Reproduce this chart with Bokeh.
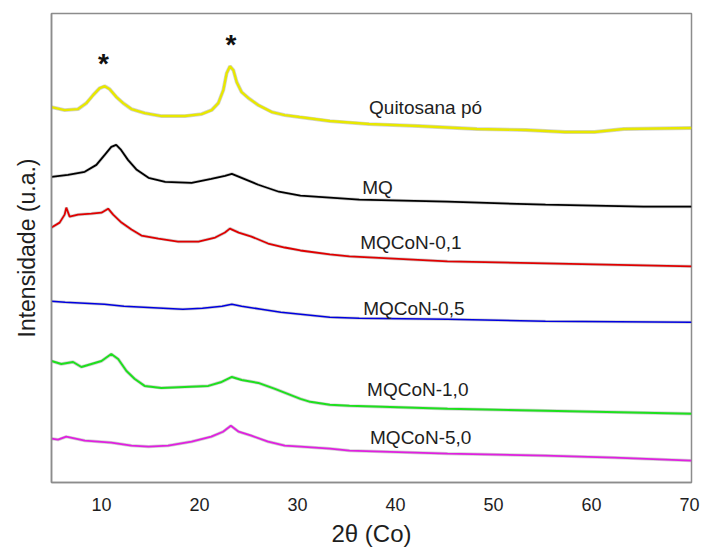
from bokeh.plotting import figure
from bokeh.models import Range1d, FixedTicker, Label
from bokeh.embed import file_html
from bokeh.resources import INLINE

# 2-theta (degrees) / intensity (a.u., stacked) for each sample
theta_quit = [4.9, 6.24, 7.61, 8.46, 9.14, 9.82, 10.33, 10.84, 11.53, 12.21, 13.06, 14.42, 16.13, 18.51,
              20.22, 21.24, 21.92, 22.43, 22.77, 23.11, 23.46, 23.8, 24.3, 25.0, 26.0, 27.4, 28.7, 30.2,
              33.3, 37.3, 42.3, 48.3, 53.3, 57.3, 60.3, 63.3, 70.2]
int_quit = [377, 374, 375, 381, 389, 396, 398, 395, 387, 381, 375, 371, 368, 368,
            370, 374, 381, 394, 411, 418, 414, 402, 392, 386, 379, 372, 369, 367,
            363, 360, 358, 355, 354, 352, 352, 355, 356]

theta_mq = [4.9, 6.58, 8.29, 9.48, 10.33, 11.0, 11.5, 12.0, 12.7, 13.6, 14.8, 16.5, 19.2, 21.2, 22.6,
            23.3, 24.3, 26.0, 28.1, 30.3, 33.3, 36.3, 45.3, 55.3, 65.3, 70.2]
int_mq = [307, 309, 312, 319, 329, 337, 339, 334, 324, 314, 306, 302, 301, 305, 308,
          310, 306, 299, 292, 288, 286, 284, 282, 279, 277, 277]

theta_01 = [4.9, 5.73, 6.24, 6.41, 6.75, 7.61, 8.97, 10.0, 10.68, 11.19, 12.04, 13.06, 14.08, 15.8, 17.8,
            19.9, 21.6, 22.6, 23.1, 24.0, 25.3, 27.0, 28.7, 30.3, 33.3, 35.3, 45.3, 55.3, 70.2]
int_01 = [256, 261, 269, 276, 267, 269, 270, 271, 275, 269, 261, 254, 248, 245, 242,
          242, 246, 251, 255, 251, 247, 240, 236, 233, 229, 227, 222, 220, 217]

theta_05 = [4.9, 6.3, 8.3, 10.3, 12.3, 14.3, 16.3, 18.3, 20.3, 22.3, 23.3, 24.3, 26.3, 28.3, 30.3, 33.3,
            36.3, 45.3, 55.3, 70.2]
int_05 = [182, 181, 180, 179, 177, 176, 175, 174, 175, 177, 179, 177, 174, 171, 169, 166,
          165, 164, 162, 161]

theta_10 = [4.9, 5.9, 7.1, 7.95, 8.97, 10.0, 11.0, 11.7, 12.55, 13.4, 14.4, 16.1, 18.5, 20.9, 22.26, 23.3,
            24.3, 26.0, 27.7, 30.3, 31.3, 33.3, 35.3, 45.3, 55.3, 60.3, 70.2]
int_10 = [122, 119, 121, 116, 119, 122, 129, 124, 112, 104, 97, 95, 96, 97, 101, 106,
          103, 100, 94, 84, 81, 78, 77, 74, 72, 71, 69]

theta_50 = [4.9, 5.56, 6.4, 8.3, 11.0, 13.06, 14.8, 16.8, 19.2, 21.2, 22.4, 23.2, 24.0, 25.3, 27.0, 28.7,
            30.3, 33.3, 35.3, 45.3, 55.3, 62.3, 70.2]
int_50 = [44, 43, 46, 42, 40, 37, 36, 37, 41, 46, 51, 57, 51, 47, 41, 37,
          36, 34, 32, 29, 27, 25, 22]

names = ["Quitosana pó", "MQ", "MQCoN-0,1", "MQCoN-0,5", "MQCoN-1,0", "MQCoN-5,0"]
label_theta = [37.3, 36.6, 36.4, 36.7, 37.1, 37.4]
label_int = [377, 296, 241, 175, 93, 45]

star_theta = [10.2, 23.2]
star_int = [421, 440]

x_ticks = [10, 20, 30, 40, 50, 60, 70]

series = [
    (theta_quit, int_quit, "#e8e800", 2.4),
    (theta_mq, int_mq, "#000000", 1.8),
    (theta_01, int_01, "#e00000", 1.8),
    (theta_05, int_05, "#0000e0", 1.6),
    (theta_10, int_10, "#1ee01e", 2.0),
    (theta_50, int_50, "#e020e0", 1.8),
]

FONT = "Liberation Sans"
TEXT = "#1e1e1e"
FRAME = "#8c8c8c"

p = figure(width=704, height=549, output_backend="svg", toolbar_location=None,
           x_range=Range1d(4.9, 70.2), y_range=Range1d(0, 471),
           min_border_left=51, min_border_right=13, min_border_top=13, min_border_bottom=65)
p.background_fill_color = "white"
p.border_fill_color = "white"
p.outline_line_color = FRAME
p.outline_line_width = 1.5
p.grid.visible = False

p.xaxis.ticker = FixedTicker(ticks=x_ticks)
p.xaxis.major_tick_line_color = None
p.xaxis.minor_tick_line_color = None
p.xaxis.axis_line_color = FRAME
p.xaxis.axis_line_width = 1.5
p.xaxis.major_label_text_font = FONT
p.xaxis.major_label_text_font_size = "18px"
p.xaxis.major_label_text_color = TEXT
p.xaxis.major_label_standoff = 9
p.xaxis.axis_label = "2θ (Co)"
p.xaxis.axis_label_text_font = FONT
p.xaxis.axis_label_text_font_style = "normal"
p.xaxis.axis_label_text_font_size = "24px"
p.xaxis.axis_label_text_color = TEXT
p.xaxis.axis_label_standoff = 6

p.yaxis.ticker = FixedTicker(ticks=[])
p.yaxis.major_tick_line_color = None
p.yaxis.minor_tick_line_color = None
p.yaxis.axis_line_color = FRAME
p.yaxis.axis_line_width = 1.5
p.yaxis.axis_label = "Intensidade (u.a.)"
p.yaxis.axis_label_text_font = FONT
p.yaxis.axis_label_text_font_style = "normal"
p.yaxis.axis_label_text_font_size = "23px"
p.yaxis.axis_label_text_color = TEXT
p.yaxis.axis_label_standoff = 12

for xs, ys, col, lw in series:
    p.line(xs, ys, line_color="#9a9a9a", line_width=lw + 1.4, line_alpha=0.45)
    p.line(xs, ys, line_color=col, line_width=lw)

for name, tx, ty in zip(names, label_theta, label_int):
    p.add_layout(Label(x=tx, y=ty, text=name, text_font=FONT, text_font_size="19px",
                       text_baseline="middle", text_align="left", text_color=TEXT))

for sx, sy in zip(star_theta, star_int):
    p.add_layout(Label(x=sx, y=sy, text="*", text_font=FONT, text_font_size="28px",
                       text_baseline="middle", text_align="center", text_color="#111111",
                       text_font_style="bold"))

open("out.html", "w").write(file_html(p, INLINE))
